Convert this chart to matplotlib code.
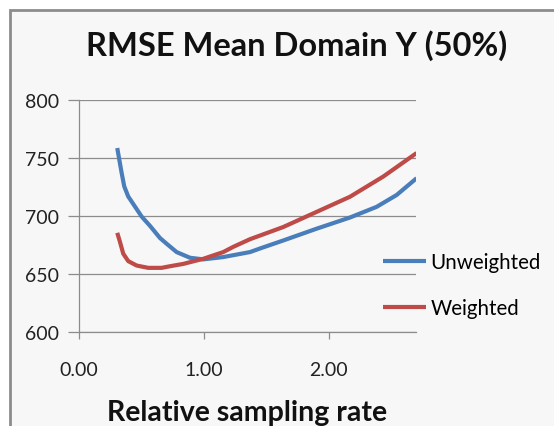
import matplotlib.pyplot as plt
from matplotlib.patches import Rectangle

# values
rate_unweighted = [0.310, 0.326, 0.345, 0.366, 0.398, 0.452, 0.506, 0.572, 0.652,
                   0.705, 0.785, 0.892, 0.998, 1.158, 1.372, 1.452, 1.638, 1.906,
                   2.172, 2.385, 2.545, 2.705]
rmse_unweighted = [758.6, 748.8, 737.2, 725.5, 716.8, 708.1, 699.4, 691.5, 681.0,
                   676.1, 668.9, 664.0, 662.6, 664.6, 668.9, 672.0, 678.9, 689.1,
                   698.7, 707.9, 718.1, 732.6]

rate_weighted = [0.310, 0.332, 0.358, 0.398, 0.465, 0.558, 0.665, 0.732, 0.838,
                 0.892, 0.998, 1.158, 1.238, 1.372, 1.638, 1.906, 2.172, 2.438, 2.705]
rmse_weighted = [685.5, 677.6, 667.5, 661.1, 657.3, 655.3, 655.3, 656.7, 658.7,
                 660.2, 663.1, 668.9, 673.4, 680.0, 690.5, 703.6, 716.6, 734.0, 754.3]

y_ticks = [600, 650, 700, 750, 800]
x_ticks = [0.0, 1.0, 2.0]

FONT = "Lato"
W, H = 554, 427

fig = plt.figure(figsize=(5.54, 4.27), dpi=100)
fig.patch.set_facecolor("white")

# excel style chart area with grey border
fig.patches.append(Rectangle((10 / W, -0.05), 1.1, 1 - 11 / H + 0.05,
                             transform=fig.transFigure, facecolor="#f7f7f7",
                             edgecolor="#8c8c8c", linewidth=2, zorder=0))

ax = fig.add_axes([78.5 / W, 1 - 333 / H, (416 - 78.5) / W, (333 - 101) / H])
ax.set_facecolor("none")
ax.set_zorder(2)

ax.plot(rate_unweighted, rmse_unweighted, color="#4a7ebb", lw=3, label="Unweighted",
        solid_capstyle="butt", solid_joinstyle="round")
ax.plot(rate_weighted, rmse_weighted, color="#be4b48", lw=3, label="Weighted",
        solid_capstyle="butt", solid_joinstyle="round")

ax.set_xlim(0, 2.70)
ax.set_ylim(600, 800)
ax.set_yticks(y_ticks)
ax.set_xticks(x_ticks)
ax.set_xticklabels([f"{v:.2f}" for v in x_ticks])
ax.grid(axis="y", color="#8c8c8c", lw=0.9)
ax.set_axisbelow(True)

for side in ["top", "right"]:
    ax.spines[side].set_visible(False)
for side in ["left", "bottom"]:
    ax.spines[side].set_color("#8c8c8c")
    ax.spines[side].set_linewidth(0.9)

ax.tick_params(axis="y", length=8, width=0.9, color="#8c8c8c", pad=6,
               labelsize=14, labelcolor="#222222")
ax.tick_params(axis="x", length=5, width=0.9, color="#8c8c8c", pad=16,
               labelsize=14, labelcolor="#222222")
for lab in ax.get_xticklabels() + ax.get_yticklabels():
    lab.set_fontfamily(FONT)

fig.text(297 / W, 1 - 46 / H, "RMSE Mean Domain Y (50%)", ha="center", va="center",
         fontsize=23.5, fontweight="bold", family=FONT, color="#111111")
fig.text(247 / W, 1 - 413 / H, "Relative sampling rate", ha="center", va="center",
         fontsize=20.5, fontweight="bold", family=FONT, color="#111111")

fig.legend(loc="upper left", bbox_to_anchor=(383 / W, 1 - 253 / H), frameon=False,
           prop={"family": FONT, "size": 14.8}, handlelength=2.1, handletextpad=0.22,
           labelspacing=1.25, borderaxespad=0, borderpad=0)

fig.savefig("out.png", dpi=100)
